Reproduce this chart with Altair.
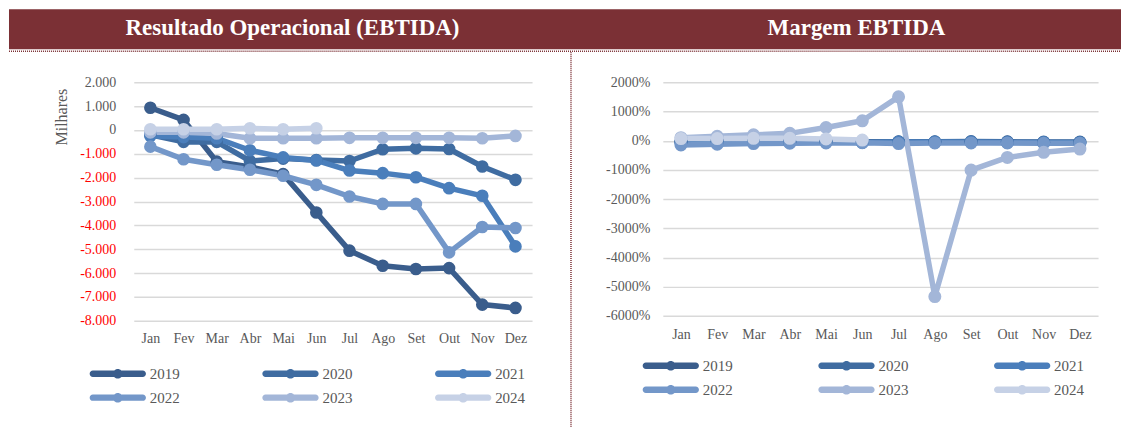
import altair as alt
import pandas as pd

months = ["Jan", "Fev", "Mar", "Abr", "Mai", "Jun", "Jul", "Ago", "Set", "Out", "Nov", "Dez"]
years = ["2019", "2020", "2021", "2022", "2023", "2024"]
colors = ["#3A5D8C", "#3F6CA1", "#4A7EBB", "#7397C9", "#A3B6D8", "#C6D1E6"]

# Resultado Operacional (EBTIDA), milhares
res_2019 = [930, 420, -1330, -1550, -1850, -3460, -5060, -5690, -5830, -5790, -7320, -7460]
res_2020 = [-200, -500, -500, -1300, -1200, -1260, -1300, -810, -770, -800, -1530, -2090]
res_2021 = [-250, -300, -350, -850, -1150, -1280, -1700, -1810, -1980, -2440, -2760, -4880]
res_2022 = [-700, -1230, -1460, -1670, -1920, -2300, -2790, -3100, -3100, -5130, -4070, -4110]
res_2023 = [-100, -100, -150, -350, -350, -350, -330, -330, -330, -330, -350, -250]
res_2024 = [30, 30, 30, 70, 30, 70]

# Margem EBTIDA, %
mar_2019 = [-30, -20, -30, -40, -30, -40, -50, -50, -50, -50, -60, -60]
mar_2020 = [-50, -40, -50, -50, -40, -50, -40, -40, -30, -40, -50, -50]
mar_2021 = [-60, -50, -50, -60, -50, -60, -50, -50, -50, -60, -60, -70]
mar_2022 = [-150, -120, -100, -90, -80, -70, -100, -80, -80, -80, -90, -90]
mar_2023 = [100, 150, 200, 250, 450, 680, 1500, -5340, -1010, -575, -400, -290]
mar_2024 = [70, 70, 80, 80, 60, 20]

title_left = "Resultado Operacional (EBTIDA)"
title_right = "Margem EBTIDA"

def long(series):
    rows = []
    for y, vals in zip(years, series):
        for i, (m, v) in enumerate(zip(months, vals)):
            rows.append({"month": m, "idx": i, "year": y, "value": v})
    return pd.DataFrame(rows)

df_res = long([res_2019, res_2020, res_2021, res_2022, res_2023, res_2024])
df_mar = long([mar_2019, mar_2020, mar_2021, mar_2022, mar_2023, mar_2024])

MAROON = "#7B3035"
GRAY = "#595959"
FONT = "Liberation Serif"

SYMBOL = ("M-0.625,-0.4L5.625,-0.4A0.4,0.4,0,0,1,5.625,0.4"
          "L-0.625,0.4A0.4,0.4,0,0,1,-0.625,-0.4Z"
          "M3.1,0A0.6,0.6,0,1,1,1.9,0A0.6,0.6,0,1,1,3.1,0Z")

def panel(df, ydomain, labelexpr, w, h, extra, legx, legy, colpad, labelcolor, ytitle, size, xpad):
    xenc = alt.X("month:N", sort=months, title=None,
                 axis=alt.Axis(labelAngle=0, labelPadding=xpad, grid=False))
    yaxis = dict(values=list(range(ydomain[0], ydomain[1] + 1, 1000)), labelExpr=labelexpr,
                 labelPadding=(18 if ytitle else 13), labelColor=labelcolor,
                 gridColor="#D9D9D9", gridWidth=1.5)
    if ytitle:
        yaxis.update(title=ytitle, titleAnchor="end", titleY=6, titleFont=FONT, titleFontSize=16,
                     titleFontWeight="normal", titleColor=GRAY, titlePadding=10)
    else:
        yaxis.update(title=None)
    yenc = alt.Y("value:Q", scale=alt.Scale(domain=ydomain, nice=False), axis=alt.Axis(**yaxis))
    base = alt.Chart(df)
    lines = base.mark_line(strokeWidth=5.5, strokeCap="round", strokeJoin="round").encode(
        x=xenc, y=yenc,
        stroke=alt.Stroke("year:N", scale=alt.Scale(domain=years + [" "], range=colors + ["#FFFFFF"]),
                          legend=None),
        order=alt.Order("idx:Q"))
    pts = base.mark_point(filled=True, size=size, opacity=1, shape="circle").encode(
        x=xenc, y=yenc,
        fill=alt.Fill("year:N", scale=alt.Scale(domain=years, range=colors), legend=alt.Legend(
            title=None, orient="none", legendX=legx, legendY=legy, columns=3, direction="horizontal",
            symbolType=SYMBOL, symbolSize=256, symbolStrokeWidth=0, symbolOpacity=1,
            labelOffset=44, labelFont=FONT, labelFontSize=15, labelColor=GRAY,
            columnPadding=colpad, rowPadding=8)))
    return alt.layer(*extra, lines, pts).properties(width=w, height=h)

one_l = pd.DataFrame({"t": [title_left]})
one_r = pd.DataFrame({"t": [title_right]})

left_band = alt.Chart(one_l).mark_rect(color=MAROON).encode(
    x=alt.value(-125), x2=alt.value(989), y=alt.value(-73), y2=alt.value(-33))
left_dots = alt.Chart(one_l).mark_rule(color=MAROON, strokeDash=[1, 1], strokeWidth=1.5).encode(
    x=alt.value(-125), x2=alt.value(989), y=alt.value(-31))
left_title = alt.Chart(one_l).mark_text(
    color="white", font=FONT, fontSize=23, fontWeight="bold", align="center", baseline="middle").encode(
    text="t:N", x=alt.value(159), y=alt.value(-54))

right_title = alt.Chart(one_r).mark_text(
    color="white", font=FONT, fontSize=23, fontWeight="bold", align="center", baseline="middle").encode(
    text="t:N", x=alt.value(194), y=alt.value(-54))
right_vline = alt.Chart(one_r).mark_rule(color=MAROON, strokeDash=[1, 1], strokeWidth=1.5).encode(
    x=alt.value(-92), y=alt.value(-30), y2=alt.value(345))

left_cond = {"condition": {"test": "datum.value < 0", "value": "#FF0000"}, "value": GRAY}

left = panel(df_res, [-8000, 2000],
             "(datum.value < 0 ? '-' : '') + replace(format(abs(datum.value), ','), ',', '.')",
             399, 239, [left_band, left_dots, left_title], -44, 284, 82, left_cond, "Milhares", 160, 11)
right = panel(df_mar, [-6000, 2000],
              "(datum.value < 0 ? '-' : '') + format(abs(datum.value), 'd') + '%'",
              436, 234, [right_vline, right_title], -20, 276, 85, GRAY, None, 170, 12)

chart = alt.hconcat(left, right, spacing=131, bounds="flush").resolve_scale(
    fill="independent", stroke="independent").resolve_legend(fill="independent").properties(
    padding={"left": 0, "top": 1, "right": 0, "bottom": 0}).configure_view(stroke=None).configure_axis(
    labelFont=FONT, labelFontSize=14, labelColor=GRAY, domain=False, ticks=False).configure_legend(
    labelFont=FONT, labelFontSize=15, labelColor=GRAY)

chart.save("out.html", embed_options={"renderer": "svg", "actions": False})
